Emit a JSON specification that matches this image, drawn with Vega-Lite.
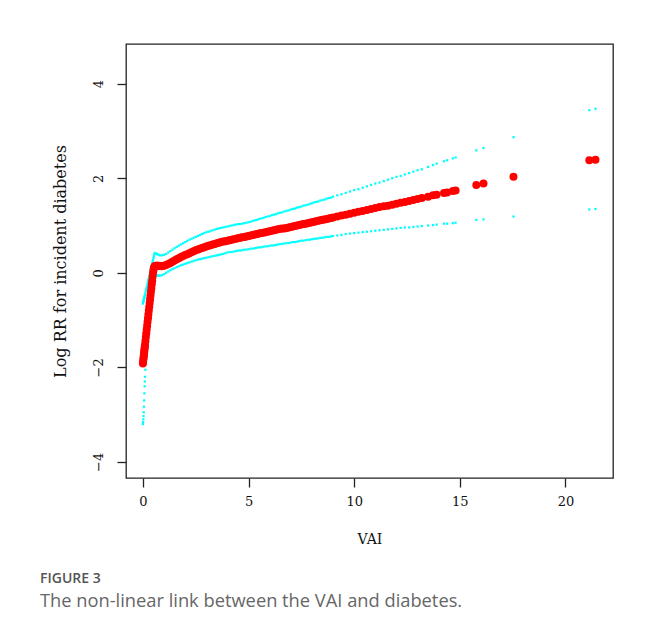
{
  "$schema": "https://vega.github.io/schema/vega-lite/v6.json",
  "width": 487,
  "height": 434,
  "autosize": {"type": "none"},
  "padding": {"left": 126, "top": 44, "right": 36, "bottom": 156},
  "background": "white",
  "config": {
    "view": {"stroke": "#222", "strokeWidth": 1.3},
    "axis": {
      "grid": false, "domain": false, "ticks": true, "tickSize": 9, "tickColor": "#222", "tickWidth": 1.3,
      "labelFont": "DejaVu Serif", "labelFontSize": 13, "labelColor": "#111",
      "titleFont": "DejaVu Serif", "titleFontWeight": "normal", "titleColor": "#111"
    }
  },
  "title": {
    "text": "FIGURE 3",
    "subtitle": "The non-linear link between the VAI and diabetes.",
    "orient": "bottom", "anchor": "start", "frame": "group", "dx": -86, "offset": 26,
    "font": "Open Sans", "fontSize": 14, "fontWeight": 600, "color": "#555",
    "subtitleFont": "Open Sans", "subtitleFontSize": 18.3, "subtitleColor": "#666", "subtitlePadding": 7
  },
  "data": {"values": [
    {"vai":0.00,"fit":-1.92,"lower":-3.20,"upper":-0.65},
    {"vai":0.01,"fit":-1.88,"lower":-3.16,"upper":-0.63},
    {"vai":0.02,"fit":-1.84,"lower":-3.10,"upper":-0.61},
    {"vai":0.03,"fit":-1.80,"lower":-3.03,"upper":-0.59},
    {"vai":0.04,"fit":-1.76,"lower":-2.95,"upper":-0.57},
    {"vai":0.05,"fit":-1.72,"lower":-2.83,"upper":-0.56},
    {"vai":0.06,"fit":-1.68,"lower":-2.70,"upper":-0.54},
    {"vai":0.07,"fit":-1.64,"lower":-2.55,"upper":-0.52},
    {"vai":0.08,"fit":-1.60,"lower":-2.40,"upper":-0.50},
    {"vai":0.09,"fit":-1.56,"lower":-2.30,"upper":-0.48},
    {"vai":0.10,"fit":-1.52,"lower":-2.20,"upper":-0.46},
    {"vai":0.12,"fit":-1.44,"lower":-2.05,"upper":-0.42},
    {"vai":0.14,"fit":-1.36,"lower":-1.92,"upper":-0.38},
    {"vai":0.16,"fit":-1.28,"lower":-1.80,"upper":-0.34},
    {"vai":0.18,"fit":-1.20,"lower":-1.68,"upper":-0.31},
    {"vai":0.20,"fit":-1.12,"lower":-1.57,"upper":-0.27},
    {"vai":0.22,"fit":-1.04,"lower":-1.46,"upper":-0.23},
    {"vai":0.24,"fit":-0.96,"lower":-1.35,"upper":-0.19},
    {"vai":0.26,"fit":-0.88,"lower":-1.22,"upper":-0.15},
    {"vai":0.28,"fit":-0.80,"lower":-1.08,"upper":-0.12},
    {"vai":0.30,"fit":-0.72,"lower":-0.94,"upper":-0.08},
    {"vai":0.32,"fit":-0.64,"lower":-0.80,"upper":-0.04},
    {"vai":0.34,"fit":-0.56,"lower":-0.66,"upper":0.00},
    {"vai":0.36,"fit":-0.48,"lower":-0.54,"upper":0.04},
    {"vai":0.38,"fit":-0.40,"lower":-0.43,"upper":0.08},
    {"vai":0.40,"fit":-0.32,"lower":-0.33,"upper":0.11},
    {"vai":0.42,"fit":-0.24,"lower":-0.24,"upper":0.15},
    {"vai":0.44,"fit":-0.16,"lower":-0.16,"upper":0.19},
    {"vai":0.46,"fit":-0.08,"lower":-0.10,"upper":0.23},
    {"vai":0.48,"fit":0.00,"lower":-0.05,"upper":0.27},
    {"vai":0.50,"fit":0.06,"lower":-0.02,"upper":0.31},
    {"vai":0.52,"fit":0.10,"lower":-0.01,"upper":0.35},
    {"vai":0.54,"fit":0.13,"lower":-0.01,"upper":0.39},
    {"vai":0.56,"fit":0.14,"lower":-0.02,"upper":0.42},
    {"vai":0.6,"fit":0.15,"lower":-0.04,"upper":0.41},
    {"vai":0.65,"fit":0.15,"lower":-0.05,"upper":0.40},
    {"vai":0.7,"fit":0.15,"lower":-0.06,"upper":0.39},
    {"vai":0.75,"fit":0.147,"lower":-0.06,"upper":0.38},
    {"vai":0.8,"fit":0.145,"lower":-0.06,"upper":0.37},
    {"vai":0.9,"fit":0.14,"lower":-0.05,"upper":0.37},
    {"vai":1.0,"fit":0.15,"lower":-0.03,"upper":0.38},
    {"vai":1.1,"fit":0.165,"lower":0.00,"upper":0.40},
    {"vai":1.2,"fit":0.185,"lower":0.03,"upper":0.43},
    {"vai":1.3,"fit":0.21,"lower":0.055,"upper":0.46},
    {"vai":1.4,"fit":0.235,"lower":0.08,"upper":0.49},
    {"vai":1.5,"fit":0.26,"lower":0.10,"upper":0.52},
    {"vai":1.6,"fit":0.285,"lower":0.12,"upper":0.55},
    {"vai":1.7,"fit":0.31,"lower":0.14,"upper":0.575},
    {"vai":1.8,"fit":0.335,"lower":0.16,"upper":0.60},
    {"vai":1.9,"fit":0.355,"lower":0.175,"upper":0.625},
    {"vai":2.0,"fit":0.375,"lower":0.19,"upper":0.65},
    {"vai":2.1,"fit":0.395,"lower":0.205,"upper":0.675},
    {"vai":2.2,"fit":0.415,"lower":0.22,"upper":0.70},
    {"vai":2.3,"fit":0.435,"lower":0.235,"upper":0.72},
    {"vai":2.4,"fit":0.455,"lower":0.25,"upper":0.74},
    {"vai":2.5,"fit":0.475,"lower":0.265,"upper":0.76},
    {"vai":2.6,"fit":0.495,"lower":0.28,"upper":0.78},
    {"vai":2.7,"fit":0.51,"lower":0.29,"upper":0.80},
    {"vai":2.8,"fit":0.525,"lower":0.30,"upper":0.82},
    {"vai":2.9,"fit":0.54,"lower":0.31,"upper":0.84},
    {"vai":3.0,"fit":0.555,"lower":0.32,"upper":0.86},
    {"vai":3.1,"fit":0.57,"lower":0.33,"upper":0.87},
    {"vai":3.2,"fit":0.585,"lower":0.34,"upper":0.885},
    {"vai":3.3,"fit":0.60,"lower":0.35,"upper":0.90},
    {"vai":3.4,"fit":0.612,"lower":0.36,"upper":0.915},
    {"vai":3.5,"fit":0.625,"lower":0.37,"upper":0.93},
    {"vai":3.6,"fit":0.638,"lower":0.38,"upper":0.94},
    {"vai":3.7,"fit":0.65,"lower":0.39,"upper":0.95},
    {"vai":3.8,"fit":0.66,"lower":0.40,"upper":0.96},
    {"vai":3.9,"fit":0.67,"lower":0.415,"upper":0.97},
    {"vai":4.0,"fit":0.68,"lower":0.43,"upper":0.98},
    {"vai":4.1,"fit":0.69,"lower":0.44,"upper":0.99},
    {"vai":4.2,"fit":0.70,"lower":0.44,"upper":1.00},
    {"vai":4.3,"fit":0.71,"lower":0.45,"upper":1.01},
    {"vai":4.4,"fit":0.72,"lower":0.46,"upper":1.02},
    {"vai":4.5,"fit":0.73,"lower":0.47,"upper":1.03},
    {"vai":4.6,"fit":0.74,"lower":0.47,"upper":1.03},
    {"vai":4.7,"fit":0.75,"lower":0.48,"upper":1.04},
    {"vai":4.8,"fit":0.76,"lower":0.49,"upper":1.05},
    {"vai":4.9,"fit":0.77,"lower":0.49,"upper":1.06},
    {"vai":5.0,"fit":0.78,"lower":0.50,"upper":1.07},
    {"vai":5.1,"fit":0.79,"lower":0.51,"upper":1.08},
    {"vai":5.2,"fit":0.80,"lower":0.51,"upper":1.10},
    {"vai":5.3,"fit":0.81,"lower":0.52,"upper":1.11},
    {"vai":5.4,"fit":0.82,"lower":0.53,"upper":1.12},
    {"vai":5.5,"fit":0.83,"lower":0.54,"upper":1.14},
    {"vai":5.6,"fit":0.84,"lower":0.54,"upper":1.15},
    {"vai":5.7,"fit":0.85,"lower":0.55,"upper":1.16},
    {"vai":5.8,"fit":0.86,"lower":0.56,"upper":1.18},
    {"vai":5.9,"fit":0.87,"lower":0.56,"upper":1.19},
    {"vai":6.0,"fit":0.88,"lower":0.57,"upper":1.20},
    {"vai":6.1,"fit":0.89,"lower":0.58,"upper":1.22},
    {"vai":6.2,"fit":0.90,"lower":0.58,"upper":1.23},
    {"vai":6.3,"fit":0.91,"lower":0.59,"upper":1.24},
    {"vai":6.4,"fit":0.92,"lower":0.60,"upper":1.26},
    {"vai":6.5,"fit":0.93,"lower":0.61,"upper":1.27},
    {"vai":6.6,"fit":0.94,"lower":0.61,"upper":1.28},
    {"vai":6.7,"fit":0.94,"lower":0.62,"upper":1.30},
    {"vai":6.8,"fit":0.95,"lower":0.63,"upper":1.31},
    {"vai":6.9,"fit":0.96,"lower":0.63,"upper":1.32},
    {"vai":7.0,"fit":0.97,"lower":0.64,"upper":1.34},
    {"vai":7.1,"fit":0.98,"lower":0.65,"upper":1.35},
    {"vai":7.2,"fit":0.99,"lower":0.65,"upper":1.36},
    {"vai":7.3,"fit":1.00,"lower":0.66,"upper":1.38},
    {"vai":7.4,"fit":1.01,"lower":0.67,"upper":1.39},
    {"vai":7.5,"fit":1.02,"lower":0.68,"upper":1.40},
    {"vai":7.6,"fit":1.03,"lower":0.68,"upper":1.42},
    {"vai":7.7,"fit":1.04,"lower":0.69,"upper":1.43},
    {"vai":7.8,"fit":1.05,"lower":0.70,"upper":1.44},
    {"vai":7.9,"fit":1.06,"lower":0.70,"upper":1.46},
    {"vai":8.0,"fit":1.07,"lower":0.71,"upper":1.47},
    {"vai":8.1,"fit":1.08,"lower":0.72,"upper":1.49},
    {"vai":8.2,"fit":1.09,"lower":0.72,"upper":1.50},
    {"vai":8.3,"fit":1.10,"lower":0.73,"upper":1.51},
    {"vai":8.4,"fit":1.11,"lower":0.74,"upper":1.53},
    {"vai":8.5,"fit":1.12,"lower":0.74,"upper":1.54},
    {"vai":8.6,"fit":1.13,"lower":0.75,"upper":1.55},
    {"vai":8.7,"fit":1.14,"lower":0.76,"upper":1.57},
    {"vai":8.8,"fit":1.15,"lower":0.76,"upper":1.58},
    {"vai":8.9,"fit":1.16,"lower":0.77,"upper":1.59},
    {"vai":9.0,"fit":1.17,"lower":0.78,"upper":1.61},
    {"vai":9.2,"fit":1.19,"lower":0.79,"upper":1.64},
    {"vai":9.4,"fit":1.21,"lower":0.80,"upper":1.66},
    {"vai":9.6,"fit":1.23,"lower":0.82,"upper":1.69},
    {"vai":9.8,"fit":1.25,"lower":0.83,"upper":1.72},
    {"vai":10.0,"fit":1.27,"lower":0.84,"upper":1.75},
    {"vai":10.2,"fit":1.29,"lower":0.85,"upper":1.77},
    {"vai":10.4,"fit":1.31,"lower":0.86,"upper":1.80},
    {"vai":10.6,"fit":1.33,"lower":0.87,"upper":1.83},
    {"vai":10.8,"fit":1.35,"lower":0.88,"upper":1.86},
    {"vai":11.0,"fit":1.37,"lower":0.89,"upper":1.89},
    {"vai":11.2,"fit":1.39,"lower":0.90,"upper":1.91},
    {"vai":11.4,"fit":1.41,"lower":0.91,"upper":1.94},
    {"vai":11.6,"fit":1.42,"lower":0.92,"upper":1.97},
    {"vai":11.8,"fit":1.44,"lower":0.93,"upper":2.00},
    {"vai":12.0,"fit":1.46,"lower":0.94,"upper":2.03},
    {"vai":12.2,"fit":1.48,"lower":0.95,"upper":2.05},
    {"vai":12.4,"fit":1.50,"lower":0.96,"upper":2.08},
    {"vai":12.6,"fit":1.52,"lower":0.96,"upper":2.11},
    {"vai":12.8,"fit":1.54,"lower":0.97,"upper":2.14},
    {"vai":13.0,"fit":1.56,"lower":0.98,"upper":2.17},
    {"vai":13.2,"fit":1.58,"lower":0.99,"upper":2.19},
    {"vai":13.5,"fit":1.61,"lower":1.00,"upper":2.24},
    {"vai":13.73,"fit":1.64,"lower":1.01,"upper":2.28},
    {"vai":13.9,"fit":1.65,"lower":1.02,"upper":2.31},
    {"vai":14.25,"fit":1.69,"lower":1.04,"upper":2.36},
    {"vai":14.4,"fit":1.70,"lower":1.04,"upper":2.38},
    {"vai":14.67,"fit":1.73,"lower":1.05,"upper":2.42},
    {"vai":14.8,"fit":1.74,"lower":1.06,"upper":2.44},
    {"vai":15.78,"fit":1.86,"lower":1.12,"upper":2.59},
    {"vai":16.12,"fit":1.89,"lower":1.13,"upper":2.64},
    {"vai":17.54,"fit":2.03,"lower":1.19,"upper":2.87},
    {"vai":21.13,"fit":2.38,"lower":1.34,"upper":3.44},
    {"vai":21.42,"fit":2.39,"lower":1.35,"upper":3.47}
  ]},
  "encoding": {
    "x": {
      "field": "vai", "type": "quantitative",
      "scale": {"domain": [-0.8, 22.25], "nice": false, "zero": false},
      "axis": {"values": [0, 5, 10, 15, 20], "labelPadding": 8, "title": "VAI", "titleFontSize": 14, "titlePadding": 24}
    }
  },
  "layer": [
    {
      "mark": {"type": "square", "color": "#00ffff", "size": 5, "opacity": 1},
      "encoding": {
        "y": {"field": "lower", "type": "quantitative",
          "scale": {"domain": [-4.34, 4.84], "nice": false, "zero": false},
          "axis": {"values": [-4, -2, 0, 2, 4], "labelAngle": -90, "labelAlign": "center", "labelBaseline": "bottom", "labelPadding": 12, "title": "Log RR for incident diabetes", "titleFontSize": 16, "titlePadding": 24}}
      }
    },
    {
      "mark": {"type": "square", "color": "#00ffff", "size": 5, "opacity": 1},
      "encoding": {
        "y": {"field": "upper", "type": "quantitative", "title": "Log RR for incident diabetes"}
      }
    },
    {
      "mark": {"type": "circle", "color": "#ff0000", "size": 64, "opacity": 1},
      "encoding": {
        "y": {"field": "fit", "type": "quantitative", "title": "Log RR for incident diabetes"}
      }
    }
  ]
}
